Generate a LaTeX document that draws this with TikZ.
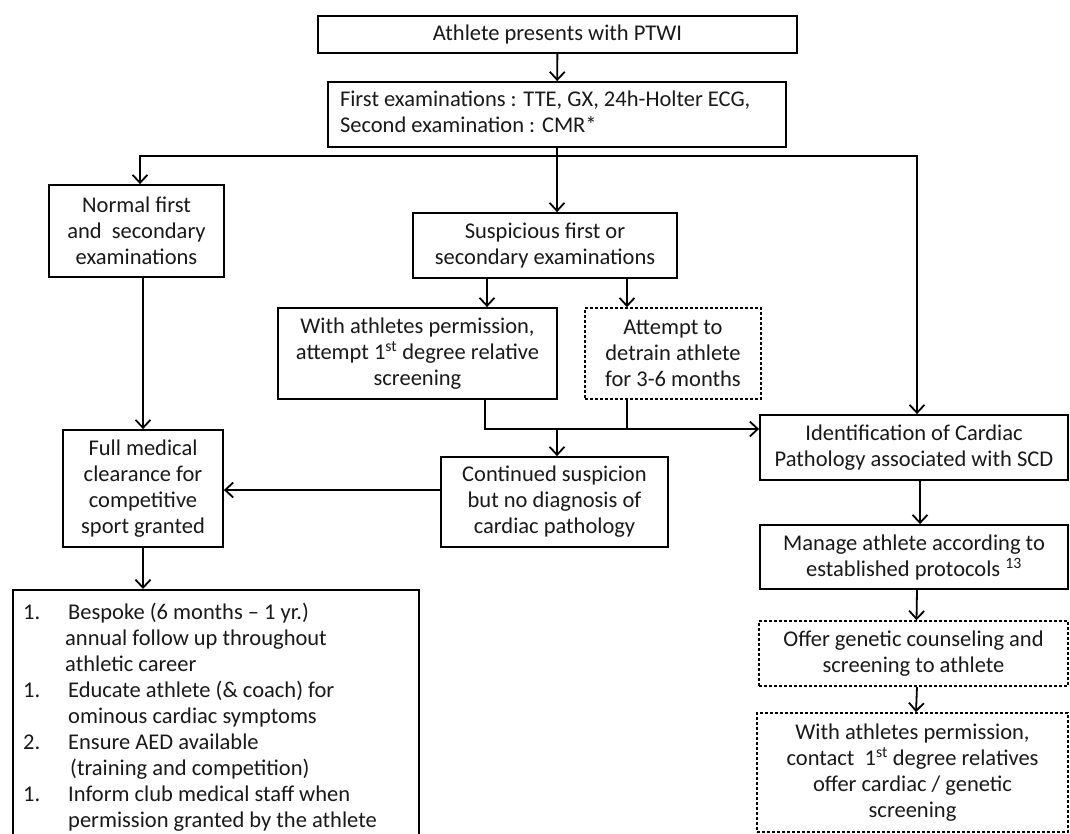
\documentclass[tikz,border=0pt]{standalone}
\usepackage{fontspec}
\setmainfont{Carlito}
\usetikzlibrary{arrows.meta}
\begin{document}
\begin{tikzpicture}[x=1pt,y=-1pt,
  box/.style={draw, line width=1.8pt, align=center, inner sep=0pt, text=black!90, font=\fontsize{22.5}{26}\selectfont},
  dbox/.style={box, line width=1.6pt, dash pattern=on 3pt off 2pt},
  ln/.style={line width=1.8pt},
  arr/.style={ln, -{Straight Barb[length=8pt,width=15pt,line width=1.8pt]}}]
\clip (0,0) rectangle (1070,834);
\fill[white] (0,0) rectangle (1070,834);

\node[box, minimum width=479pt, minimum height=37pt] (start) at (557.5,34.5) {Athlete presents with PTWI};
\node[box, minimum width=458pt, minimum height=65pt] (exams) at (557,114.5)
  {\makebox[434pt][l]{\begin{tabular}{@{}l@{}}First examinations : TTE, GX, 24h-Holter ECG,\\Second examination : CMR*\end{tabular}}};
\node[box, minimum width=175pt, minimum height=92pt] (normal) at (136.5,231) {Normal first\\and\ \ secondary\\examinations};
\node[box, minimum width=264pt, minimum height=65pt] (susp) at (545,245.5) {Suspicious first or\\secondary examinations};
\node[box, minimum width=279pt, minimum height=91pt] (withp) at (417.5,353.5) {With athletes permission,\\attempt 1\textsuperscript{st} degree relative\\screening};
\node[dbox, minimum width=176pt, minimum height=91pt] (detrain) at (673,353.5) {Attempt to\\detrain athlete\\for 3-6 months};
\node[box, minimum width=227pt, minimum height=90pt] (cont) at (554.5,502) {Continued suspicion\\but no diagnosis of\\cardiac pathology};
\node[box, minimum width=160pt, minimum height=117pt] (full) at (143,488.5) {Full medical\\clearance for\\competitive\\sport granted};
\node[box, minimum width=406pt, minimum height=260pt, anchor=north west] (care) at (12,589) {};
\node[anchor=north west, inner sep=0pt, text=black!90, font=\fontsize{22.5}{26}\selectfont] (caretext) at (23,601) {%
\begin{tabular}{@{}p{45pt}@{}l@{}}
1. & Bespoke (6 months -- 1 yr.)\\
   & \hspace{-3pt}annual follow up throughout\\
   & \hspace{-3pt}athletic career\\
1. & Educate athlete (\& coach) for\\
   & ominous cardiac symptoms\\
2. & Ensure AED available\\
   & \hspace{2pt}(training and competition)\\
1. & Inform club medical staff when\\
   & permission granted by the athlete
\end{tabular}};
\node[box, minimum width=308pt, minimum height=65pt] (ident) at (914,447.5) {Identification of Cardiac\\Pathology associated with SCD};
\node[box, minimum width=308pt, minimum height=64pt] (manage) at (914,557) {Manage athlete according to\\established protocols \textsuperscript{13}};
\node[dbox, minimum width=309pt, minimum height=65pt] (offer) at (913.5,653.5) {Offer genetic counseling and\\screening to athlete};
\node[dbox, minimum width=311pt, minimum height=119pt] (relat) at (912.5,772.5) {With athletes permission,\\contact\ \ 1\textsuperscript{st} degree relatives\\offer cardiac / genetic\\screening};

\coordinate (split) at (557,156);
\coordinate (jl) at (140,156);
\coordinate (jr) at (917,156);
\coordinate (jm) at (557,429);

\draw[arr] (start) -- (exams);
\draw[ln] (exams.south) -- (split);
\draw[arr] (split) -| (jl |- normal.north);
\draw[arr] (split) -| (jr |- ident.north);
\draw[arr] (split) -- (split |- susp.north);

\draw[arr] ([xshift=-58pt]susp.south) -- ([xshift=-58pt]susp.south |- withp.north);
\draw[arr] ([xshift=82pt]susp.south) -- ([xshift=82pt]susp.south |- detrain.north);

\draw[arr] ([xshift=67.5pt]withp.south) |- (jm -| ident.west);
\draw[ln] ([xshift=-46pt]detrain.south) -- ([xshift=-46pt]detrain.south |- jm);
\draw[arr] (jm) -- (jm |- cont.north);

\draw[arr] ([yshift=12pt]cont.west) -- ([yshift=12pt]cont.west -| full.east);
\draw[arr] (normal.south -| full.north) -- (full.north);
\draw[arr] (full.south) -- (full.south |- care.north);

\draw[arr] ([xshift=6pt]ident.south) -- ([xshift=6pt]manage.north);
\draw[arr] ([xshift=3pt]manage.south) -- ([xshift=3pt]offer.north);
\draw[arr] ([xshift=3.5pt]offer.south) -- ([xshift=3.5pt]relat.north);
\end{tikzpicture}
\end{document}
